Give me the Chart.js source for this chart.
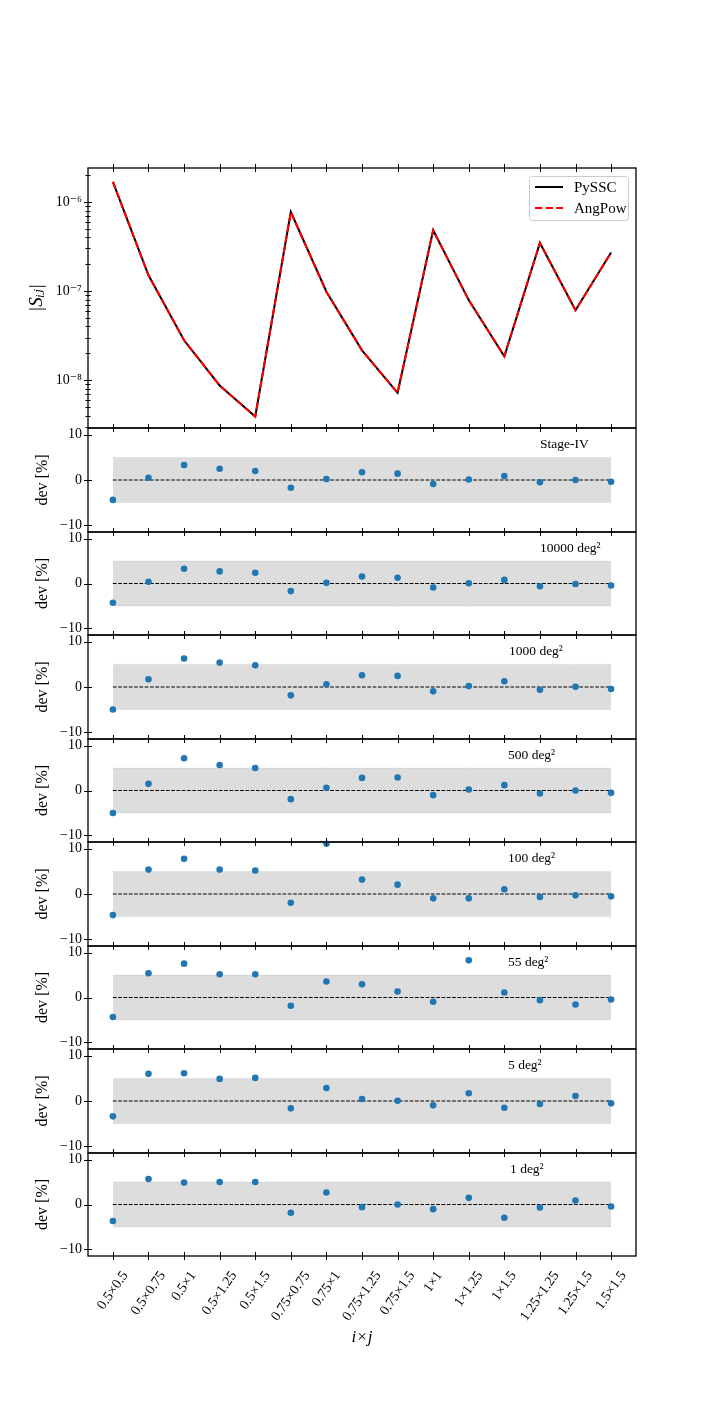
<!DOCTYPE html>
<html>
<head>
<meta charset="utf-8">
<script src="https://cdn.jsdelivr.net/npm/chart.js@4.4.1/dist/chart.umd.min.js"></script>
<style>
html, body { margin: 0; padding: 0; background: #fff; }
#wrap { position: relative; width: 706px; height: 1412px; }
</style>
</head>
<body>
<div id="wrap"></div>
<script>
// bin pairs i x j
const pairs = ['0.5×0.5', '0.5×0.75', '0.5×1', '0.5×1.25', '0.5×1.5', '0.75×0.75', '0.75×1', '0.75×1.25',
    '0.75×1.5', '1×1', '1×1.25', '1×1.5', '1.25×1.25', '1.25×1.5', '1.5×1.5'];

// |S_ij| (top panel)
const sPySSC = [1.68e-6, 1.5e-7, 2.8e-8, 8.7e-9, 3.9e-9, 7.7e-7, 9.8e-8, 2.16e-8, 7.2e-9, 4.8e-7, 7.9e-8, 1.85e-8, 3.46e-7, 6.07e-8, 2.7e-7];
const sAngPow = [1.68e-6, 1.5e-7, 2.8e-8, 8.7e-9, 3.9e-9, 7.7e-7, 9.8e-8, 2.16e-8, 7.2e-9, 4.8e-7, 7.9e-8, 1.85e-8, 3.46e-7, 6.07e-8, 2.7e-7];
const sTickValues = [1e-8, 1e-7, 1e-6];
const sTickLabels = ['10⁻⁸', '10⁻⁷', '10⁻⁶'];

// relative deviation in %, one array per survey
const devStage4 = [-4.4, 0.5, 3.3, 2.5, 2.0, -1.7, 0.2, 1.7, 1.4, -0.9, 0.1, 0.9, -0.5, 0.0, -0.4];
const dev10000 = [-4.3, 0.4, 3.3, 2.7, 2.4, -1.7, 0.15, 1.55, 1.3, -0.9, 0.05, 0.8, -0.6, -0.1, -0.45];
const dev1000 = [-4.96, 1.7, 6.3, 5.4, 4.8, -1.85, 0.6, 2.6, 2.45, -0.96, 0.2, 1.26, -0.6, 0.07, -0.44];
const dev500 = [-5.04, 1.48, 7.19, 5.7, 5.04, -1.93, 0.59, 2.81, 2.89, -1.04, 0.22, 1.19, -0.67, 0.0, -0.52];
const dev100 = [-4.67, 5.4, 7.78, 5.4, 5.19, -1.93, 11.1, 3.19, 2.07, -0.96, -0.96, 1.04, -0.67, -0.3, -0.52];
const dev55 = [-4.37, 5.41, 7.56, 5.19, 5.19, -1.85, 3.56, 2.96, 1.33, -0.96, 8.3, 1.11, -0.59, -1.56, -0.44];
const dev5 = [-3.4, 6.0, 6.15, 4.89, 5.11, -1.63, 2.89, 0.44, 0.07, -0.96, 1.7, -1.48, -0.67, 1.11, -0.52];
const dev1 = [-3.7, 5.7, 4.89, 5.04, 5.04, -1.85, 2.67, -0.59, 0.0, -1.04, 1.48, -2.96, -0.67, 0.89, -0.44];

const panelNames = ['Stage-IV', '10000 deg²', '1000 deg²', '500 deg²', '100 deg²', '55 deg²', '5 deg²', '1 deg²'];
const panelDevs = [devStage4, dev10000, dev1000, dev500, dev100, dev55, dev5, dev1];
const devTicks = [-10, 0, 10];
const bandHalf = 5;

// layout (page pixels)
const LEFT = 88, RIGHT = 636, W = 706, PAD = 20;
const edges = [168, 428, 532, 635, 739, 842, 946, 1049, 1153, 1256];
const nameX = [452, 452, 421, 420, 420, 420, 420, 422];
const SERIF = "'Liberation Serif', 'DejaVu Serif', 'Times New Roman', serif";

const wrap = document.getElementById('wrap');
function addCanvas(top, height) {
    const c = document.createElement('canvas');
    c.width = W;
    c.height = height;
    c.style.position = 'absolute';
    c.style.left = '0px';
    c.style.top = top + 'px';
    c.style.width = W + 'px';
    c.style.height = height + 'px';
    wrap.appendChild(c);
    return c;
}

// ticks crossing the frame (matplotlib "inout") plus the frame itself
const frameTicks = {
    id: 'frameTicks',
    afterDatasetsDraw(chart) {
        const {ctx, chartArea: a, scales} = chart;
        ctx.save();
        ctx.strokeStyle = '#000';
        ctx.lineWidth = 1;
        ctx.beginPath();
        scales.x.ticks.forEach(t => {
            const px = Math.round(scales.x.getPixelForValue(t.value)) + 0.5;
            ctx.moveTo(px, a.top - 4); ctx.lineTo(px, a.top + 4);
            ctx.moveTo(px, a.bottom - 4); ctx.lineTo(px, a.bottom + 4);
        });
        scales.y.ticks.forEach(t => {
            const len = t.label !== '' ? 4 : 2.5;
            const py = Math.round(scales.y.getPixelForValue(t.value)) + 0.5;
            ctx.moveTo(a.left - len, py); ctx.lineTo(a.left + len, py);
        });
        ctx.stroke();
        ctx.lineWidth = 1.3;
        ctx.strokeRect(a.left, a.top, a.right - a.left, a.bottom - a.top);
        ctx.restore();
    }
};

const panelName = {
    id: 'panelName',
    afterDraw(chart, args, opts) {
        if (!opts.text) return;
        const {ctx, chartArea: a} = chart;
        ctx.save();
        ctx.font = '13.5px ' + SERIF;
        ctx.fillStyle = '#000';
        ctx.textBaseline = 'middle';
        ctx.textAlign = 'left';
        ctx.fillText(opts.text, a.left + opts.x, a.top + 16);
        ctx.restore();
    }
};

// rotated tick labels whose bounding box is centred on the tick
const rotatedLabels = {
    id: 'rotatedLabels',
    afterDraw(chart, args, opts) {
        if (!opts.show) return;
        const {ctx, chartArea: a, scales: {x}} = chart;
        const th = opts.angle * Math.PI / 180;
        ctx.save();
        ctx.font = opts.size + 'px ' + SERIF;
        ctx.fillStyle = '#000';
        ctx.textAlign = 'center';
        ctx.textBaseline = 'middle';
        x.ticks.forEach(t => {
            const text = pairs[t.value];
            const w = ctx.measureText(text).width, h = opts.size * 0.72;
            const bh = w * Math.sin(th) + h * Math.cos(th);
            const cx = x.getPixelForValue(t.value);
            const cy = a.bottom + opts.pad + bh / 2;
            ctx.save();
            ctx.translate(cx, cy);
            ctx.rotate(-th);
            ctx.fillText(text, 0, 0);
            ctx.restore();
        });
        ctx.restore();
    }
};

const boxLegend = {
    id: 'boxLegend',
    afterDraw(chart) {
        const {ctx, chartArea: a} = chart;
        const w = 99, h = 44;
        const x0 = a.right - 8 - w, y0 = a.top + 8;
        ctx.save();
        ctx.beginPath();
        ctx.roundRect(x0 + 0.5, y0 + 0.5, w, h, 3);
        ctx.fillStyle = 'rgba(255,255,255,0.85)';
        ctx.fill();
        ctx.strokeStyle = '#cccccc';
        ctx.lineWidth = 1;
        ctx.stroke();
        ctx.font = '15px ' + SERIF;
        ctx.textBaseline = 'middle';
        ctx.fillStyle = '#000';
        chart.data.datasets.forEach((ds, i) => {
            const y = y0 + 11 + i * 21;
            ctx.beginPath();
            ctx.setLineDash(ds.borderDash || []);
            ctx.strokeStyle = ds.borderColor;
            ctx.lineWidth = ds.borderWidth;
            ctx.moveTo(x0 + 6, y);
            ctx.lineTo(x0 + 34, y);
            ctx.stroke();
            ctx.setLineDash([]);
            ctx.fillText(ds.label, x0 + 45, y + 1);
        });
        ctx.restore();
    }
};

function xScale(showTitle, height) {
    return {
        type: 'linear',
        min: -0.7,
        max: 14.7,
        afterBuildTicks: s => { s.ticks = pairs.map((p, i) => ({value: i})); },
        afterFit: s => { s.height = height; },
        grid: {display: false, drawTicks: false},
        border: {display: false},
        ticks: {display: false, autoSkip: false},
        title: {
            display: showTitle,
            text: 'i×j',
            color: '#000',
            font: {family: SERIF, size: 17, style: 'italic'},
            padding: {top: 0, bottom: 2}
        }
    };
}

// top panel: |S_ij|
(function () {
    const top = edges[0] - PAD, height = edges[1] - edges[0] + 2 * PAD;
    const minorTicks = [];
    for (let e = -9; e <= -6; e++) {
        for (let m = 1; m <= 9; m++) minorTicks.push(m * Math.pow(10, e));
    }
    const yMin = 2.9e-9, yMax = 2.4e-6;
    new Chart(addCanvas(top, height), {
        type: 'line',
        data: {
            datasets: [{
                label: 'PySSC',
                data: sPySSC.map((v, i) => ({x: i, y: v})),
                borderColor: '#000000',
                borderWidth: 2,
                pointRadius: 0,
                order: 2
            }, {
                label: 'AngPow',
                data: sAngPow.map((v, i) => ({x: i, y: v})),
                borderColor: '#ff0000',
                borderWidth: 2,
                borderDash: [7.4, 3.2],
                pointRadius: 0,
                order: 1
            }]
        },
        options: {
            responsive: false,
            animation: false,
            events: [],
            layout: {padding: {top: PAD, bottom: PAD, left: 0, right: W - RIGHT}},
            plugins: {legend: {display: false}, tooltip: {enabled: false}},
            scales: {
                x: xScale(false, 0),
                y: {
                    type: 'logarithmic',
                    min: yMin,
                    max: yMax,
                    afterBuildTicks: s => {
                        s.ticks = minorTicks.filter(v => v >= yMin && v <= yMax).map(v => ({value: v}));
                    },
                    afterFit: s => { s.width = LEFT; },
                    grid: {display: false, drawTicks: false},
                    border: {display: false},
                    ticks: {
                        autoSkip: false,
                        padding: 6,
                        color: '#000',
                        font: {family: SERIF, size: 14},
                        callback: v => {
                            const k = sTickValues.findIndex(t => Math.abs(t - v) / t < 1e-6);
                            return k >= 0 ? sTickLabels[k] : '';
                        }
                    },
                    title: {
                        display: true,
                        text: '|Sᵢⱼ|',
                        color: '#000',
                        font: {family: SERIF, size: 19, style: 'italic'},
                        padding: {top: 26, bottom: 0}
                    }
                }
            }
        },
        plugins: [frameTicks, boxLegend]
    });
})();

// deviation panels
panelDevs.forEach((dev, k) => {
    const last = k === panelDevs.length - 1;
    const axisH = last ? 94 : 0;
    const top = edges[k + 1] - PAD;
    const height = edges[k + 2] - edges[k + 1] + PAD + (last ? axisH : PAD);
    new Chart(addCanvas(top, height), {
        type: 'line',
        data: {
            datasets: [{
                label: panelNames[k],
                data: dev.map((v, i) => ({x: i, y: v})),
                showLine: false,
                pointRadius: 3.3,
                pointBackgroundColor: '#1f77b4',
                pointBorderWidth: 0,
                clip: false
            }, {
                label: 'zero',
                data: pairs.map((p, i) => ({x: i, y: 0})),
                borderColor: '#000000',
                borderWidth: 1,
                borderDash: [3.7, 1.6],
                pointRadius: 0
            }, {
                label: 'band+',
                data: pairs.map((p, i) => ({x: i, y: bandHalf})),
                borderColor: 'rgba(128,128,128,0.12)',
                borderWidth: 1,
                backgroundColor: 'rgba(128,128,128,0.27)',
                pointRadius: 0,
                fill: '+1'
            }, {
                label: 'band-',
                data: pairs.map((p, i) => ({x: i, y: -bandHalf})),
                borderColor: 'rgba(128,128,128,0.12)',
                borderWidth: 1,
                pointRadius: 0,
                fill: false
            }]
        },
        options: {
            responsive: false,
            animation: false,
            events: [],
            layout: {padding: {top: PAD, bottom: last ? 0 : PAD, left: 0, right: W - RIGHT}},
            plugins: {
                legend: {display: false},
                tooltip: {enabled: false},
                panelName: {text: panelNames[k], x: nameX[k]},
                rotatedLabels: {show: last, angle: 55, size: 14, pad: 14}
            },
            scales: {
                x: xScale(last, axisH),
                y: {
                    type: 'linear',
                    min: -11.5,
                    max: 11.5,
                    afterBuildTicks: s => { s.ticks = devTicks.map(v => ({value: v})); },
                    afterFit: s => { s.width = LEFT; },
                    grid: {display: false, drawTicks: false},
                    border: {display: false},
                    ticks: {
                        autoSkip: false,
                        padding: 6,
                        color: '#000',
                        font: {family: SERIF, size: 14},
                        callback: v => (v < 0 ? '\u2212' + Math.abs(v) : String(v))
                    },
                    title: {
                        display: true,
                        text: 'dev [%]',
                        color: '#000',
                        font: {family: SERIF, size: 16},
                        padding: {top: 33, bottom: 0}
                    }
                }
            }
        },
        plugins: [frameTicks, panelName, rotatedLabels]
    });
});
</script>
</body>
</html>
